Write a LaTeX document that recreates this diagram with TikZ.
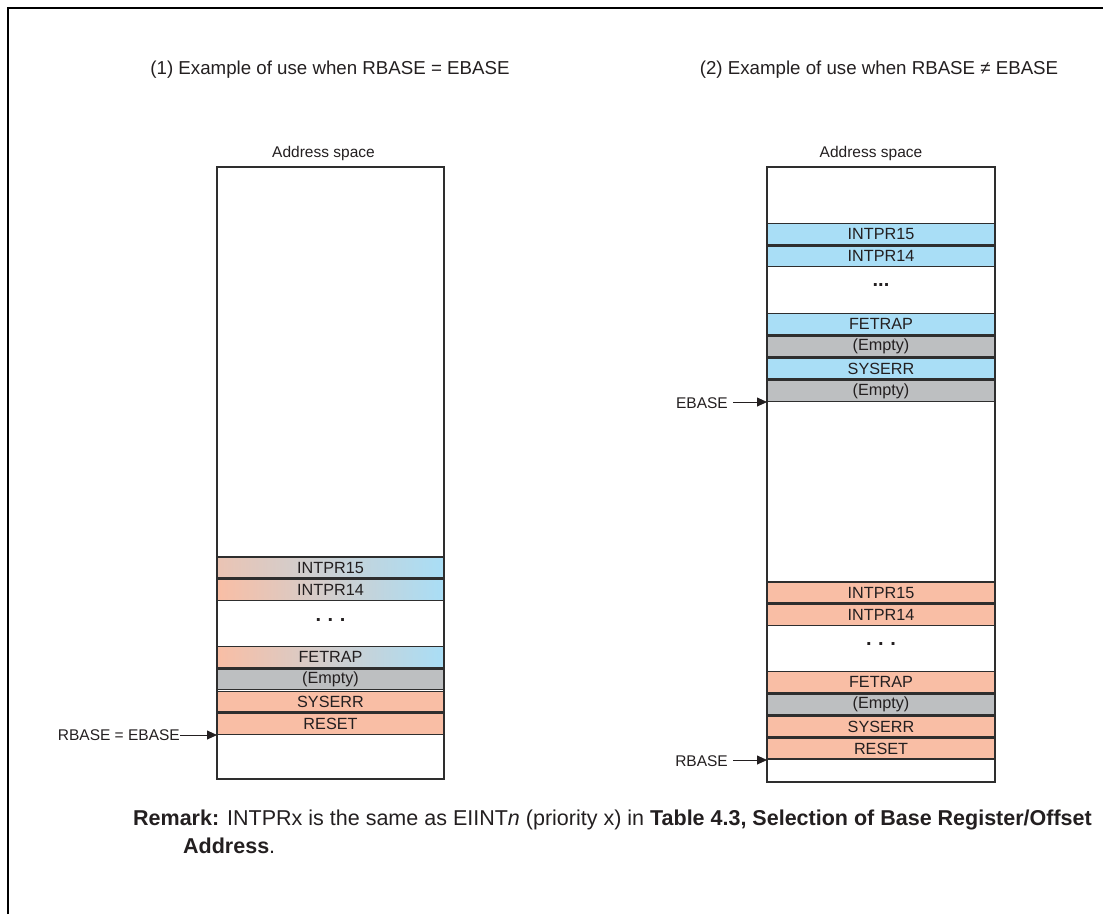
\documentclass[tikz,border=0pt]{standalone}
\usepackage{fontspec}
\setmainfont{Liberation Sans}
\usetikzlibrary{arrows.meta}
\definecolor{salmon}{HTML}{F9BEA5}
\definecolor{skyb}{HTML}{A9DEF6}
\definecolor{grayf}{HTML}{BDBFC1}
\definecolor{edge}{HTML}{2E2E2E}
\definecolor{ink}{HTML}{231F20}
\tikzset{
  slot/.style={draw=edge, line width=1.5pt, minimum height=20.6pt, inner sep=0pt, text=ink, font=\fontsize{16.2}{18}\selectfont},
  lslot/.style={slot, minimum width=227pt},
  rslot/.style={slot, minimum width=228pt},
  red/.style={fill=salmon},
  blu/.style={fill=skyb},
  gry/.style={fill=grayf},
  grad/.style={left color=salmon, right color=skyb},
  space/.style={draw=edge, line width=1.4pt, fill=white},
  lbl/.style={text=ink, inner sep=0pt, font=\fontsize{15.5}{18}\selectfont},
  ttl/.style={text=ink, inner sep=0pt, font=\fontsize{18.7}{22}\selectfont},
  ptr/.style={draw=ink, line width=0.9pt, -{Triangle[length=10pt,width=9pt]}},
  dots/.style={text=ink, inner sep=0pt, font=\bfseries\fontsize{20}{20}\selectfont}
}
\begin{document}
\begin{tikzpicture}[x=1pt,y=-1pt]
\useasboundingbox (0,0) rectangle (1103,914);
% frame
\draw[line width=2.2pt] (8,914) -- (8,8) -- (1103,8);
% titles
\node[ttl] (t1) at (330,70) {(1) Example of use when RBASE = EBASE};
\node[ttl] (t2) at (879,70) {(2) Example of use when RBASE ≠ EBASE};
% left column
\node[lbl] (la) at (323.5,153) {Address space};
\draw[space] (217,167) rectangle (444,779);
\node[lslot,left color=salmon!55!skyb!40!salmon, right color=skyb] (l15) at (330.5,567.5) {INTPR15};
\node[lslot,grad] (l14) at (330.5,590) {INTPR14};
\node[dots] (ldots) at (330.5,620) {.\,\,.\,\,.};
\node[lslot,grad] (lfe) at (330.5,657) {FETRAP};
\node[lslot,gry] (lem) at (330.5,679.3) {(Empty)};
\node[lslot,red] (lsy) at (330.5,701.6) {SYSERR};
\node[lslot,red] (lre) at (330.5,724) {RESET};
\coordinate (lrb) at (217,735);
\node[lbl, anchor=east] (lrbt) at (180,735) {RBASE = EBASE};
\draw[ptr] (lrbt.east) -- (lrb);
% right column
\node[lbl] (ra) at (871,153) {Address space};
\draw[space] (767,167) rectangle (995,782);
\node[rslot,blu] (r15) at (881,234) {INTPR15};
\node[rslot,blu] (r14) at (881,256.3) {INTPR14};
\node[dots] (rdots1) at (881,285) {...};
\node[rslot,blu] (rfe) at (881,324) {FETRAP};
\node[rslot,gry] (rem1) at (881,346.5) {(Empty)};
\node[rslot,blu] (rsy) at (881,368.8) {SYSERR};
\node[rslot,gry] (rem2) at (881,391) {(Empty)};
\coordinate (reb) at (767,402);
\node[lbl, anchor=east] (rebt) at (728,403) {EBASE};
\draw[ptr] (733,402) -- (reb);
\node[rslot,red] (s15) at (881,592.5) {INTPR15};
\node[rslot,red] (s14) at (881,615) {INTPR14};
\node[dots] (rdots2) at (881,644) {.\,\,.\,\,.};
\node[rslot,red] (sfe) at (881,682) {FETRAP};
\node[rslot,gry] (sem) at (881,704.5) {(Empty)};
\node[rslot,red] (ssy) at (881,726.5) {SYSERR};
\node[rslot,red] (sre) at (881,748.5) {RESET};
\coordinate (srb) at (767,760);
\node[lbl, anchor=east] (srbt) at (728,761) {RBASE};
\draw[ptr] (733,760) -- (srb);
% remark
\node[anchor=base west, text=ink, inner sep=0pt, font=\fontsize{21.5}{28}\selectfont] (rm1) at (133,825) {\textbf{Remark:} INTPRx is the same as EIINT\textit{n} (priority x) in \textbf{Table 4.3, Selection of Base Register/Offset}};
\node[anchor=base west, text=ink, inner sep=0pt, font=\fontsize{21.5}{28}\selectfont] (rm2) at (183,853) {\textbf{Address}.};
\end{tikzpicture}
\end{document}
